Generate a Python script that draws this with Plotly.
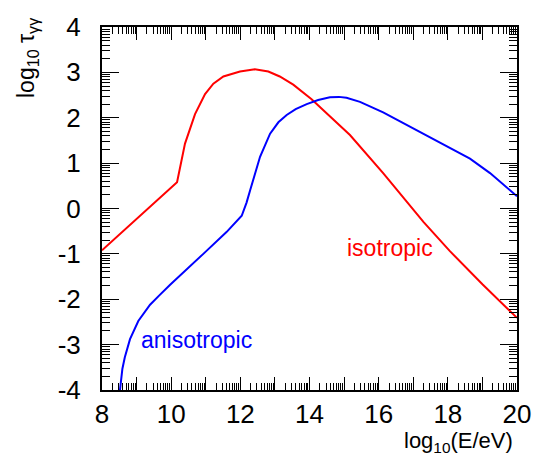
import numpy as np
import plotly.graph_objects as go

# ---- data ----
iso_x = [8.0, 10.17, 10.40, 10.69, 10.98, 11.22, 11.51, 11.99, 12.42, 12.81, 13.14,
         13.53, 14.06, 14.59, 15.17, 16.13, 16.61, 17.3, 18.06, 19.0, 20.0]
iso_y = [-0.92, 0.58, 1.43, 2.08, 2.52, 2.75, 2.91, 3.02, 3.07, 3.02, 2.91,
         2.73, 2.41, 2.03, 1.62, 0.78, 0.34, -0.30, -0.94, -1.67, -2.41]

aniso_x = [8.52, 8.59, 8.66, 8.81, 9.05, 9.29, 9.39, 9.65, 9.97, 10.93, 11.60, 12.04,
           12.18, 12.29, 12.57, 12.86, 13.10, 13.34, 13.60, 13.92, 14.25, 14.59,
           14.85, 15.07, 15.46, 16.13, 17.10, 17.97, 18.64, 19.22, 20.0]
aniso_y = [-4.0, -3.53, -3.28, -2.88, -2.48, -2.23, -2.12, -1.92, -1.68, -1.00, -0.52, -0.16,
           0.13, 0.42, 1.14, 1.65, 1.90, 2.06, 2.19, 2.30, 2.39, 2.45,
           2.46, 2.44, 2.35, 2.12, 1.72, 1.36, 1.10, 0.78, 0.27]

x_tickvals = [8, 10, 12, 14, 16, 18, 20]
x_ticktext = ["8", "10", "12", "14", "16", "18", "20"]
y_tickvals = [-4, -3, -2, -1, 0, 1, 2, 3, 4]
y_ticktext = ["-4", "-3", "-2", "-1", "0", "1", "2", "3", "4"]

x_range = [8, 20]
y_range = [-4, 4]

labels = ["isotropic", "anisotropic"]
label_x = [16.33, 10.73]
label_y = [-0.86, -2.90]
colors = ["#ff0000", "#0000ff"]


def log_minor(lo, hi):
    vals = []
    for n in range(lo, hi):
        for k in range(2, 10):
            vals.append(n + np.log10(k))
    return vals


FONT = "Liberation Sans, Arial, Helvetica, sans-serif"

fig = go.Figure()
fig.add_trace(go.Scatter(x=iso_x, y=iso_y, mode="lines",
                         line=dict(color=colors[0], width=2), showlegend=False,
                         hoverinfo="skip"))
fig.add_trace(go.Scatter(x=aniso_x, y=aniso_y, mode="lines",
                         line=dict(color=colors[1], width=2), showlegend=False,
                         hoverinfo="skip"))
# transparent trace so that the overlay (minor tick) axes are drawn
fig.add_trace(go.Scatter(x=iso_x, y=iso_y, mode="lines", xaxis="x2", yaxis="y2",
                         line=dict(color="rgba(0,0,0,0)", width=0), showlegend=False,
                         hoverinfo="skip"))

for t, lx, ly, c in zip(labels, label_x, label_y, colors):
    fig.add_annotation(x=lx, y=ly, xref="x", yref="y", text=t, showarrow=False,
                       font=dict(family=FONT, size=23, color=c),
                       xanchor="center", yanchor="middle")

fig.add_annotation(xref="paper", yref="paper", x=0.995, y=-0.10,
                   text="log<sub>10</sub>(E/eV)", showarrow=False,
                   xanchor="right", yanchor="top",
                   font=dict(family=FONT, size=22, color="black"))
fig.add_annotation(xref="paper", yref="paper", x=-0.178, y=0.915,
                   text="log<sub>10</sub> τ<sub>γγ</sub>", showarrow=False,
                   textangle=-90, xanchor="center", yanchor="middle",
                   font=dict(family=FONT, size=23, color="black"))

axis_common = dict(ticks="inside", tickwidth=1, tickcolor="black", showline=True,
                   linewidth=2, linecolor="black", mirror="allticks",
                   showgrid=False, zeroline=False)

fig.update_layout(
    width=549, height=455, margin=dict(l=102, r=32, t=22, b=65),
    plot_bgcolor="white", paper_bgcolor="white",
    xaxis=dict(range=x_range, tickmode="array", tickvals=x_tickvals,
               ticktext=x_ticktext, ticklen=13,
               tickfont=dict(family=FONT, size=26, color="black"),
               minor=dict(dtick=1, tick0=8, ticks="inside", ticklen=13,
                          tickwidth=1, tickcolor="black", showgrid=False),
               **axis_common),
    yaxis=dict(range=y_range, tickmode="array", tickvals=y_tickvals,
               ticktext=y_ticktext, ticklen=17, ticklabelstandoff=14,
               tickfont=dict(family=FONT, size=26, color="black"),
               **axis_common),
    xaxis2=dict(range=x_range, overlaying="x", anchor="y", side="bottom",
                tickmode="array", tickvals=log_minor(8, 20), ticklen=7,
                showticklabels=False, **axis_common),
    yaxis2=dict(range=y_range, overlaying="y", anchor="x", side="left",
                tickmode="array", tickvals=log_minor(-4, 4), ticklen=8,
                showticklabels=False, **axis_common),
)

fig.write_html("out.html")
